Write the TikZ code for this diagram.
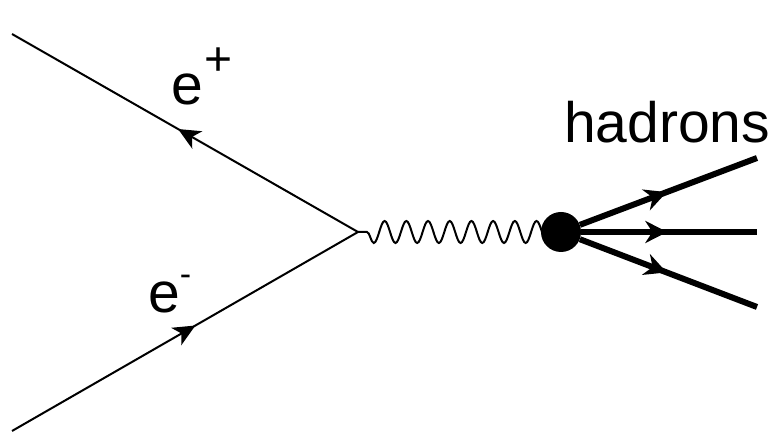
\documentclass[tikz,border=0pt]{standalone}
\usepackage{fontspec}
\setmainfont{Liberation Sans}
\usetikzlibrary{arrows.meta,decorations.pathmorphing,decorations.markings}

\tikzset{
  fermion/.style={line width=2pt, postaction={decorate},
    decoration={markings, mark=at position #1 with
      {\arrow{Stealth[length=22pt, width=20pt, inset=6pt]}}}},
  hadron/.style={line width=6pt, postaction={decorate},
    decoration={markings, mark=at position #1 with
      {\arrow{Stealth[length=22pt, width=22pt, inset=7pt]}}}},
  photon/.style={line width=2pt, decorate,
    decoration={snake, amplitude=11pt, segment length=21.7pt,
      pre length=9pt, mirror}},
  lbl/.style={anchor=base west, inner sep=0pt}
}

\begin{document}
\begin{tikzpicture}[x=1pt, y=1pt, font=\fontsize{57}{57}\selectfont]
\useasboundingbox (0,0) rectangle (776,435);
\coordinate (pos) at (12,401);
\coordinate (ele) at (12,4);
\coordinate (vtx) at (358,203);
\coordinate (ctr) at (561,203);
\draw[photon] (vtx) -- (ctr);
\node[circle, fill=black, inner sep=0pt, minimum size=40pt] (blob) at (ctr) {};
\coordinate (h1) at (757,277);
\coordinate (h2) at (757,203);
\coordinate (h3) at (757,128);
\draw[fermion=0.52] (vtx) -- (pos);
\draw[fermion=0.53] (ele) -- (vtx);
\foreach \h in {h1,h2,h3}
  \draw[hadron=0.49] (blob) -- (\h);
\node[lbl] (lpos) at (171,330)
  {e\kern2pt\raisebox{29pt}{\fontsize{48}{48}\selectfont +}};
\node[lbl] (lele) at (148,122)
  {e\raisebox{27pt}{\fontsize{34}{34}\selectfont -}};
\node[lbl] (lhad) at (564,292) {hadrons};
\end{tikzpicture}
\end{document}
